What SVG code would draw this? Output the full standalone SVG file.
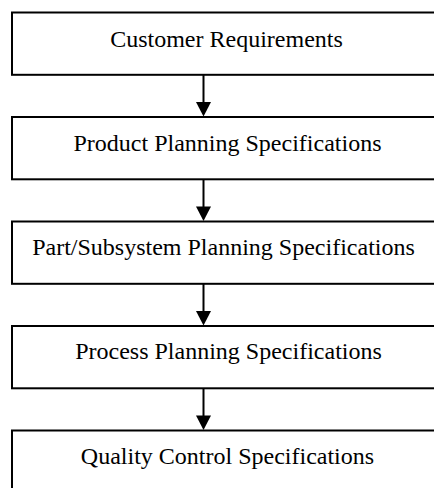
<svg xmlns="http://www.w3.org/2000/svg" width="434" height="488" viewBox="0 0 434 488">
<style>
.box{fill:#fff;stroke:#000;stroke-width:2}
.lbl{font-family:"Liberation Serif","Times New Roman",serif;font-size:24px;fill:#000;text-anchor:middle}
.conn{stroke:#000;stroke-width:2;fill:none}
.head{fill:#000}
</style>
<rect width="434" height="488" fill="#fff"/>
<g id="n1"><rect class="box" x="12" y="12.5" width="430" height="62.3"/><text class="lbl" x="226.5" y="46.7">Customer Requirements</text></g>
<g id="n2"><rect class="box" x="12" y="117" width="430" height="62.3"/><text class="lbl" x="227.5" y="150.5">Product Planning Specifications</text></g>
<g id="n3"><rect class="box" x="12" y="221.5" width="430" height="62.3"/><text class="lbl" x="223.5" y="255">Part/Subsystem Planning Specifications</text></g>
<g id="n4"><rect class="box" x="12" y="326" width="430" height="62.3"/><text class="lbl" x="228.5" y="358.8">Process Planning Specifications</text></g>
<g id="n5"><rect class="box" x="12" y="430.5" width="430" height="62.3"/><text class="lbl" x="227.5" y="463.5">Quality Control Specifications</text></g>
<g id="connectors">
<line class="conn" x1="203.5" y1="74.8" x2="203.5" y2="103"/><polygon class="head" points="196,102 211,102 203.5,116.5"/>
<line class="conn" x1="203.5" y1="179.3" x2="203.5" y2="207"/><polygon class="head" points="196,206.5 211,206.5 203.5,221"/>
<line class="conn" x1="203.5" y1="283.8" x2="203.5" y2="312"/><polygon class="head" points="196,311 211,311 203.5,325.5"/>
<line class="conn" x1="203.5" y1="388.3" x2="203.5" y2="416"/><polygon class="head" points="196,415.5 211,415.5 203.5,430"/>
</g>
</svg>
